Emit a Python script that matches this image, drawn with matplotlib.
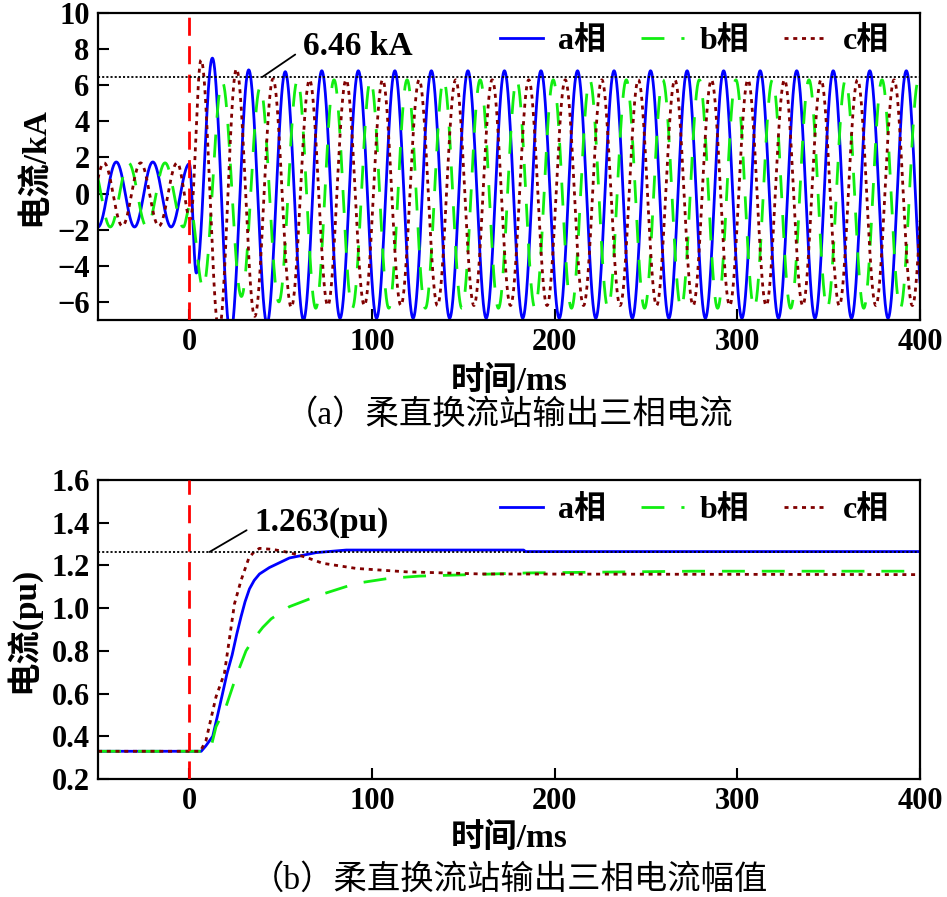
import numpy as np
import matplotlib
matplotlib.use('Agg')
import matplotlib.pyplot as plt

plt.rcParams['font.family'] = ['Liberation Serif', 'Noto Sans CJK SC']
plt.rcParams['font.weight'] = 'bold'
plt.rcParams['axes.labelweight'] = 'bold'
plt.rcParams['lines.scale_dashes'] = False
plt.rcParams['axes.unicode_minus'] = True

# ---- (a) three-phase currents: extremes (ms, kA) ----
a_ext_t = [-50, -40, -30, -20, -10, 0, 3.8, 12.6, 22.5, 32.5, 42.5, 52.5, 62.5]
a_ext_v = [-1.85, 1.75, -1.85, 1.75, -1.85, 1.65, -4.4, 7.5, -7.8, 6.85, -7.2, 6.75, -7.0]
b_ext_t = [-53.3, -43.3, -33.3, -23.3, -13.3, -3.3, 0.3, 7.5, 18, 28.5, 38.8, 49.0]
b_ext_v = [1.7, -1.85, 1.7, -1.85, 1.7, -1.85, -0.7, -5.2, 6.2, -5.7, 5.9, -6.0]
c_ext_t = [-56.7, -46.7, -36.7, -26.7, -16.7, -6.7, 0.6, 6.4, 16.2, 25.8, 35.8, 45.8, 55.8]
c_ext_v = [-1.8, 1.7, -1.8, 1.7, -1.8, 1.7, -1.4, 7.4, -7.6, 6.9, -6.8, 6.35, -6.3]
# steady state after the transient: first peak time, peak, trough
a_steady = (72.5, 6.8, -6.9)
b_steady = (59.2, 6.3, -6.35)
c_steady = (65.8, 6.3, -6.2)
period = 20.0
peak_ref = 6.46

# ---- (b) amplitudes (ms, pu) ----
a_amp_t = [-50, 6.5, 9, 12.8, 15.5, 17.9, 20.5, 23.4, 26, 28.3, 30.5, 32.9, 35.5, 38.4, 43.8, 54.8, 69.4, 85.9, 183, 184, 400]
a_amp_v = [0.33, 0.33, 0.355, 0.40, 0.50, 0.59, 0.69, 0.78, 0.88, 0.96, 1.03, 1.09, 1.13, 1.16, 1.19, 1.235, 1.26, 1.272, 1.272, 1.265, 1.265]
b_amp_t = [-50, 10, 11.9, 14.6, 20.1, 25.6, 31, 34.7, 40.2, 44.8, 54.8, 71.2, 91.3, 109.6, 126, 186, 275, 400]
b_amp_v = [0.33, 0.33, 0.35, 0.445, 0.54, 0.68, 0.80, 0.85, 0.91, 0.95, 1.007, 1.061, 1.116, 1.14, 1.15, 1.165, 1.173, 1.173]
c_amp_t = [-50, 6, 9.1, 11.5, 14.6, 19.2, 22, 24.7, 28.3, 32.5, 35.5, 38.4, 45.7, 54.8, 63.9, 73, 91.3, 118.7, 160, 400]
c_amp_v = [0.33, 0.33, 0.38, 0.47, 0.585, 0.695, 0.86, 1.02, 1.13, 1.233, 1.265, 1.28, 1.275, 1.26, 1.238, 1.21, 1.186, 1.17, 1.16, 1.157]
amp_ref = 1.263

labels = ['a相', 'b相', 'c相']
colors = ['#0000FF', '#11EE11', '#800000']
styles = [dict(linestyle='-'), dict(dashes=(16.5, 12.2)), dict(dashes=(2.9, 3.4))]


def build_wave(ext_t, ext_v, steady, t):
    tt, vv = list(ext_t), list(ext_v)
    tp, pk, tr = steady
    while tp < 420:
        tt += [tp, tp + period / 2]
        vv += [pk, tr]
        tp += period
    tt, vv = np.array(tt), np.array(vv)
    i = np.clip(np.searchsorted(tt, t, side='right') - 1, 0, len(tt) - 2)
    ph = np.clip((t - tt[i]) / (tt[i + 1] - tt[i]), 0, 1)
    return (vv[i] + vv[i + 1]) / 2 + (vv[i] - vv[i + 1]) / 2 * np.cos(np.pi * ph)


t = np.linspace(-50, 400, 6000)
waves = [build_wave(a_ext_t, a_ext_v, a_steady, t),
         build_wave(b_ext_t, b_ext_v, b_steady, t),
         build_wave(c_ext_t, c_ext_v, c_steady, t)]

fig = plt.figure(figsize=(9.47, 8.97), dpi=100)
ax1 = fig.add_axes([0.1035, 0.6433, 0.868, 0.3422])
ax2 = fig.add_axes([0.1035, 0.1315, 0.868, 0.3334])

for w, lab, col, st in zip(waves, labels, colors, styles):
    ax1.plot(t, w, color=col, lw=2, label=lab, **st)

amps = [(a_amp_t, a_amp_v), (b_amp_t, b_amp_v), (c_amp_t, c_amp_v)]
for (at, av), lab, col, st in zip(amps, labels, colors, styles):
    ax2.plot(at, av, color=col, lw=2, label=lab, **st)

for ax in (ax1, ax2):
    ax.axvline(0, color='#FF0000', lw=2, dashes=(13, 7.5), zorder=5)
    ax.set_xlim(-50, 400)
    ax.set_xticks([0, 100, 200, 300, 400])
    ax.tick_params(direction='in', length=8, width=1.5, labelsize=22,
                   top=False, right=False, pad=6)
    for s in ax.spines.values():
        s.set_linewidth(1.6)
    ax.set_xlabel('时间/ms', fontsize=24, va='center')

ax1.axhline(peak_ref, color='k', lw=1.3, dashes=(1.5, 1.5), zorder=6)
ax1.set_ylim(-7, 10)
ax1.set_yticks(np.arange(-6, 11, 2))
ax1.set_ylabel('电流/kA', fontsize=24, va='center')
ax1.yaxis.set_label_coords(-0.077, 0.5)
ax1.xaxis.set_label_coords(0.5, -0.2)
ax1.annotate(f'{peak_ref:.2f} kA', xy=(40, peak_ref), xytext=(62, 8.15),
             fontsize=24, va='center', ha='left',
             arrowprops=dict(arrowstyle='-', color='k', lw=1.3,
                             relpos=(0, 0.4), shrinkA=4, shrinkB=0))

ax2.axhline(amp_ref, color='k', lw=1.3, dashes=(1.5, 1.5), zorder=6)
ax2.set_ylim(0.2, 1.6)
ax2.set_yticks(np.arange(0.2, 1.61, 0.2))
ax2.yaxis.set_major_formatter(matplotlib.ticker.FormatStrFormatter('%.1f'))
ax2.set_ylabel('电流(pu)', fontsize=24, va='center')
ax2.yaxis.set_label_coords(-0.0925, 0.5)
ax2.xaxis.set_label_coords(0.5, -0.2)
ax2.annotate(f'{amp_ref:.3f}(pu)', xy=(11, amp_ref), xytext=(35.5, 1.40),
             fontsize=24, va='center', ha='left',
             arrowprops=dict(arrowstyle='-', color='k', lw=1.3,
                             relpos=(0, 0.4), shrinkA=4, shrinkB=0))

for ax, y in ((ax1, 0.958), (ax2, 0.95)):
    ax.legend(loc='upper left', bbox_to_anchor=(0.489, y), ncol=3, frameon=False,
              fontsize=23, handlelength=1.35, handletextpad=0.47,
              columnspacing=1.1, borderpad=0, borderaxespad=0)

fig.text(0.5375, 1 - 415 / 897, '（a）柔直换流站输出三相电流', fontsize=24,
         ha='center', va='center', fontweight='normal')
fig.text(0.5375, 1 - 880 / 897, '（b）柔直换流站输出三相电流幅值', fontsize=24,
         ha='center', va='center', fontweight='normal')

fig.savefig('out.png', dpi=100)
